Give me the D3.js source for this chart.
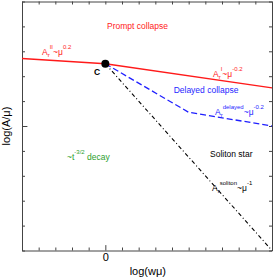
<!DOCTYPE html>
<html>
<head>
<meta charset="utf-8">
<script src="https://cdn.jsdelivr.net/npm/d3@7"></script>
<style>
  body { margin: 0; background: #fff; }
  svg { display: block; font-family: "Liberation Sans", Arial, sans-serif; }
</style>
</head>
<body>
<div id="chart"></div>
<script>
// axis ticks (log units)
var xTicks = d3.range(-5, 11);
var yTicks = d3.range(-5, 6);
var xLabels = [0];

// boundary lines
var promptLine = [{x: -5, y: 2.71}, {x: 0, y: 2.5}, {x: 10, y: 1.53}];
var delayedLine = [{x: 0, y: 2.5}, {x: 5, y: 0.55}, {x: 10, y: 0.0}];
var solitonLine = [{x: 0, y: 2.5}, {x: 10, y: -5}];
var pointC = [{x: 0, y: 2.5}];

var margin = {top: 1.5, right: 1, bottom: 27.5, left: 22},
    width = 273 - margin.left - margin.right,
    height = 278 - margin.top - margin.bottom;

var x = d3.scaleLinear().domain([-5, 10]).range([0, width]);
var y = d3.scaleLinear().domain([-5, 5]).range([height, 0]);

var svg = d3.select('#chart').append('svg')
    .attr('width', 273)
    .attr('height', 278);

var g = svg.append('g')
    .attr('transform', 'translate(' + margin.left + ',' + margin.top + ')');

// ticks point inward on every side, the 0 tick is longer
function styleAxis(sel, isMajor) {
  sel.select('.domain').attr('stroke', '#444').attr('stroke-width', 1);
  sel.selectAll('.tick line').attr('stroke', '#444');
  sel.selectAll('.tick').filter(isMajor).select('line').each(function() {
    var l = d3.select(this);
    if (l.attr('y2') !== null && +l.attr('y2') !== 0) l.attr('y2', +l.attr('y2') * 1.8);
    if (l.attr('x2') !== null && +l.attr('x2') !== 0) l.attr('x2', +l.attr('x2') * 1.8);
  });
}
var isZero = function(d) { return d === 0; };

g.append('g')
    .attr('transform', 'translate(0,' + height + ')')
    .call(d3.axisBottom(x).tickValues(xTicks).tickSize(-3).tickSizeOuter(0).tickPadding(3)
      .tickFormat(function(d) { return xLabels.indexOf(d) >= 0 ? d : ''; }))
    .call(styleAxis, isZero)
    .call(function(a) { a.selectAll('text').attr('font-size', 11).attr('fill', '#000').attr('font-family', null); });

g.append('g')
    .call(d3.axisTop(x).tickValues(xTicks).tickSize(-3).tickSizeOuter(0).tickFormat(''))
    .call(styleAxis, function() { return false; });

g.append('g')
    .call(d3.axisLeft(y).tickValues(yTicks).tickSize(-3).tickSizeOuter(0).tickFormat(''))
    .call(styleAxis, isZero);

g.append('g')
    .attr('transform', 'translate(' + width + ',0)')
    .call(d3.axisRight(y).tickValues(yTicks).tickSize(-3).tickSizeOuter(0).tickFormat(''))
    .call(styleAxis, function() { return false; });

var line = d3.line()
    .x(function(d) { return x(d.x); })
    .y(function(d) { return y(d.y); });

g.append('path')
    .datum(solitonLine)
    .attr('fill', 'none')
    .attr('stroke', '#000')
    .attr('stroke-width', 1.1)
    .attr('stroke-dasharray', '4,2.5,1,2.5')
    .attr('d', line);

g.append('path')
    .datum(delayedLine)
    .attr('fill', 'none')
    .attr('stroke', '#1f1fff')
    .attr('stroke-width', 1.3)
    .attr('stroke-dasharray', '6,3')
    .attr('d', line);

g.append('path')
    .datum(promptLine)
    .attr('fill', 'none')
    .attr('stroke', '#ff1a1a')
    .attr('stroke-width', 1.3)
    .attr('d', line);

g.selectAll('.pt')
    .data(pointC)
  .enter().append('circle')
    .attr('cx', function(d) { return x(d.x); })
    .attr('cy', function(d) { return y(d.y); })
    .attr('r', 4)
    .attr('fill', '#000');

// annotations: parts = [text, kind] with kind '' | 'sup' | 'sub'
function label(px, py, color, parts, anchor) {
  var t = g.append('text')
      .attr('x', x(px))
      .attr('y', y(py))
      .attr('fill', color)
      .attr('font-size', 8.5)
      .attr('text-anchor', anchor || 'start');
  var shift = 0;
  parts.forEach(function(p) {
    var target = p[1] === 'sup' ? -6 : p[1] === 'sub' ? 2 : 0;
    t.append('tspan')
        .attr('dy', target - shift)
        .attr('font-size', p[1] ? 6 : 8.5)
        .text(p[0]);
    shift = target;
  });
  return t;
}

label(1.93, 3.9, '#ff1a1a', [['Prompt collapse', '']], 'middle');
label(-3.8, 2.85, '#ff1a1a', [['A', ''], ['r', 'sub'], ['II', 'sup'], ['~\u03bc', ''], ['0.2', 'sup']]);
label(6.46, 1.97, '#ff1a1a', [['A', ''], ['r', 'sub'], ['I', 'sup'], ['~\u03bc', ''], ['-0.2', 'sup']]);
label(6.04, 1.33, '#1f1fff', [['Delayed collapse', '']], 'middle');
label(6.58, 0.44, '#1f1fff', [['A', ''], ['r', 'sub'], ['delayed', 'sup'], ['~\u03bc', ''], ['-0.2', 'sup']]);
label(6.28, -1.24, '#000', [['Soliton star', '']]);
label(6.4, -2.6, '#000', [['A', ''], ['r', 'sub'], ['soliton', 'sup'], ['~\u03bc', ''], ['-1', 'sup']]);
label(-2.3, -1.37, '#2ca02c', [['~t', ''], ['-3/2', 'sup'], [' decay', '']]);
label(-0.5, 2.03, '#000', [['C', '']], 'middle').attr('font-weight', 'bold').attr('font-size', 9);

// axis titles
svg.append('text')
    .attr('x', margin.left + x(2.55))
    .attr('y', 275)
    .attr('text-anchor', 'middle')
    .attr('font-size', 11)
    .text('log(w\u03bc)');

svg.append('text')
    .attr('transform', 'translate(10,' + (margin.top + y(0)) + ') rotate(-90)')
    .attr('text-anchor', 'middle')
    .attr('font-size', 11)
    .text('log(A/\u03bc)');
</script>
</body>
</html>
